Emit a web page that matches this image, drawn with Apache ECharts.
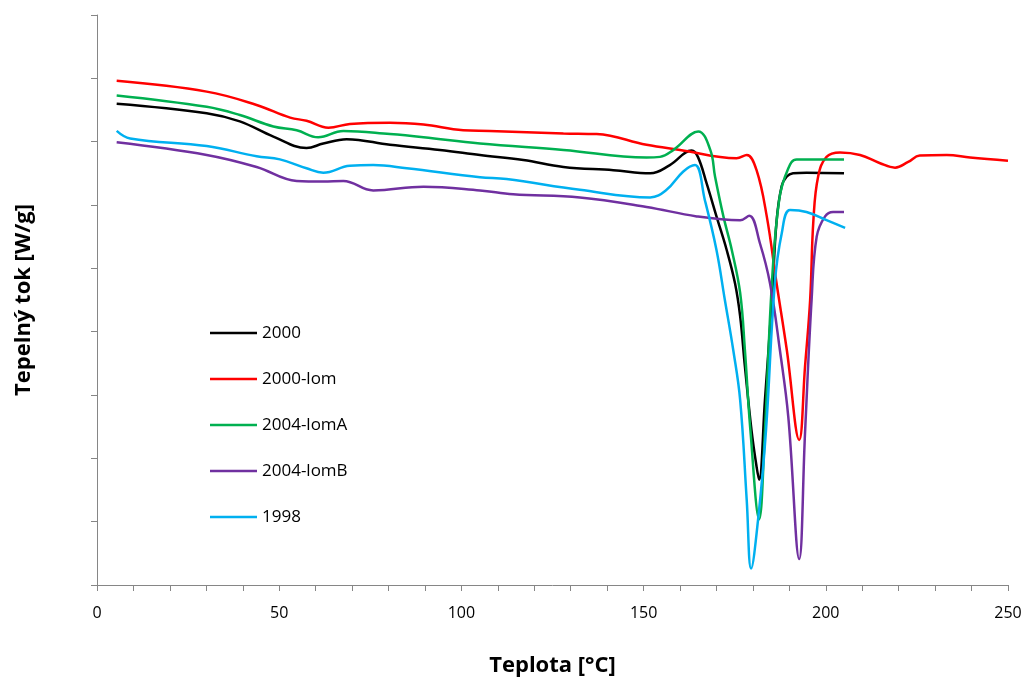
<!DOCTYPE html>
<html>
<head>
<meta charset="utf-8">
<script src="https://cdn.jsdelivr.net/npm/echarts@6/dist/echarts.min.js"></script>
<style>
  html, body { margin: 0; padding: 0; background: #fff; }
  #chart { width: 1030px; height: 682px; }
</style>
</head>
<body>
<div id="chart"></div>
<script>
// teplota [°C], tepelny tok (bez jednotek na ose, dilky 0..9)
var s2000 = [
  [5.4, 7.6], [30.1, 7.45], [39.2, 7.32], [48.4, 7.08], [57.5, 6.9], [62.1, 6.97],
  [68.5, 7.04], [80.4, 6.95], [94.1, 6.87], [105.1, 6.79], [117, 6.71], [128, 6.6],
  [141.7, 6.55], [151.8, 6.5], [157.2, 6.63], [163.2, 6.86], [164.9, 6.76], [167.3, 6.34],
  [170, 5.82], [172.8, 5.29], [175.1, 4.76], [176.5, 4.24], [177.8, 3.45], [179.6, 2.45],
  [181, 1.87], [181.7, 1.66], [183.3, 2.92], [185.2, 4.5], [186.5, 5.75], [187.9, 6.3],
  [189.3, 6.45], [191, 6.5], [194.7, 6.51], [205, 6.5]
];
var s2000lom = [
  [5.4, 7.96], [30.1, 7.79], [43.8, 7.58], [53, 7.38], [57.5, 7.33], [63.5, 7.22],
  [69.4, 7.28], [80.4, 7.3], [89.6, 7.27], [100.5, 7.18], [107.8, 7.17], [128, 7.13],
  [137.1, 7.12], [150.8, 6.95], [160, 6.87], [175.5, 6.74], [178.3, 6.79], [181, 6.55],
  [183.8, 5.82], [186.5, 4.76], [189.3, 3.71], [192.7, 2.29], [194.3, 3.45],
  [195.7, 4.5], [196.6, 5.76], [197.9, 6.45], [200.2, 6.76], [203.9, 6.83], [209.4, 6.79],
  [214.9, 6.66], [219, 6.59], [222.6, 6.68], [225.8, 6.78], [233.2, 6.79], [239.6, 6.75],
  [250, 6.7]
];
var s2004lomA = [
  [5.4, 7.73], [30.1, 7.55], [39.2, 7.42], [48.4, 7.24], [54.8, 7.18], [60.7, 7.07],
  [67.6, 7.17], [80.4, 7.12], [89.6, 7.07], [105.1, 6.97], [128, 6.87], [150.8, 6.75],
  [154.5, 6.76], [158.2, 6.87], [165, 7.16], [168.3, 6.87], [169.6, 6.45], [171.9, 5.82],
  [174.2, 5.29], [176.5, 4.61], [177.8, 3.71], [179.3, 2.45], [181.7, 1.04], [183.3, 2.45],
  [185.2, 4.76], [187.2, 6.08], [189.5, 6.55], [192, 6.72], [205, 6.72]
];
var s2004lomB = [
  [5.4, 6.99], [30.1, 6.79], [43.8, 6.6], [54.8, 6.38], [62.1, 6.37], [67.6, 6.38],
  [75.8, 6.23], [89.6, 6.29], [105.1, 6.23], [114.2, 6.17], [132.5, 6.12], [150.8, 5.97],
  [164.6, 5.82], [176.5, 5.76], [179, 5.83], [181.9, 5.4], [184.7, 4.76], [187.4, 3.71],
  [189.7, 2.66], [192.7, 0.41], [194.3, 2.4], [196.1, 4.5], [197.5, 5.5], [199.8, 5.82],
  [202, 5.89], [205, 5.89]
];
var s1998 = [
  [5.4, 7.17], [9.1, 7.05], [30.1, 6.93], [43.8, 6.77], [50.2, 6.72], [57.5, 6.58],
  [62.1, 6.51], [69.4, 6.62], [75.8, 6.63], [85, 6.58], [105.1, 6.44], [112.4, 6.41],
  [132.5, 6.24], [151.8, 6.12], [156.3, 6.24], [160.9, 6.53], [164.1, 6.63], [166.8, 6.08],
  [170, 5.29], [172.3, 4.5], [174.6, 3.71], [176.5, 2.92], [178.3, 1.34], [179.5, 0.26],
  [181.5, 1.08], [183.6, 2.45], [186, 4.76], [187.9, 5.55], [190.2, 5.92], [194.7, 5.89],
  [200.2, 5.76], [205.3, 5.64]
];
var seriesNames = ['2000', '2000-lom', '2004-lomA', '2004-lomB', '1998'];
var seriesData = [s2000, s2000lom, s2004lomA, s2004lomB, s1998];
var seriesColors = ['#000000', '#ff0000', '#00b050', '#7030a0', '#00b0f0'];

var myChart = echarts.init(document.getElementById('chart'));

var series = seriesNames.map(function(name, i) {
    return {
        name: name,
        type: 'line',
        data: seriesData[i],
        smooth: 0.4,
        showSymbol: false,
        color: seriesColors[i],
        lineStyle: { width: 2.5, color: seriesColors[i] }
    };
});

var option = {
    backgroundColor: '#fff',
    animation: false,
    grid: { left: 97, right: 22, top: 15, bottom: 97, outerBoundsMode: 'none' },
    legend: {
        data: seriesNames,
        orient: 'vertical',
        left: 205,
        top: 318,
        icon: 'rect',
        itemWidth: 47,
        itemHeight: 2.5,
        itemGap: 26,
        textStyle: { fontFamily: 'Open Sans', fontSize: 17, color: '#000', lineHeight: 20 }
    },
    xAxis: {
        type: 'value',
        min: 0,
        max: 250,
        interval: 10,
        name: 'Teplota [°C]',
        nameLocation: 'middle',
        nameGap: 70,
        nameTextStyle: { fontFamily: 'Open Sans', fontSize: 22, fontWeight: 'bold', color: '#000' },
        axisLine: { lineStyle: { color: '#868686', width: 1 } },
        axisTick: { show: true, length: 6, lineStyle: { color: '#868686' } },
        axisLabel: {
            margin: 20,
            fontFamily: 'Open Sans',
            fontSize: 16,
            color: '#000',
            formatter: function(v) { return v % 50 === 0 ? String(v) : ''; }
        },
        splitLine: { show: false }
    },
    yAxis: {
        type: 'value',
        min: 0,
        max: 9,
        interval: 1,
        name: 'Tepelný tok [W/g]',
        nameLocation: 'middle',
        nameGap: 62,
        nameRotate: 90,
        nameTextStyle: { fontFamily: 'Open Sans', fontSize: 22, fontWeight: 'bold', color: '#000' },
        axisLine: { show: true, lineStyle: { color: '#868686', width: 1 } },
        axisTick: { show: true, length: 6, lineStyle: { color: '#868686' } },
        axisLabel: { show: false },
        splitLine: { show: false }
    },
    series: series
};

myChart.setOption(option);
</script>
</body>
</html>
